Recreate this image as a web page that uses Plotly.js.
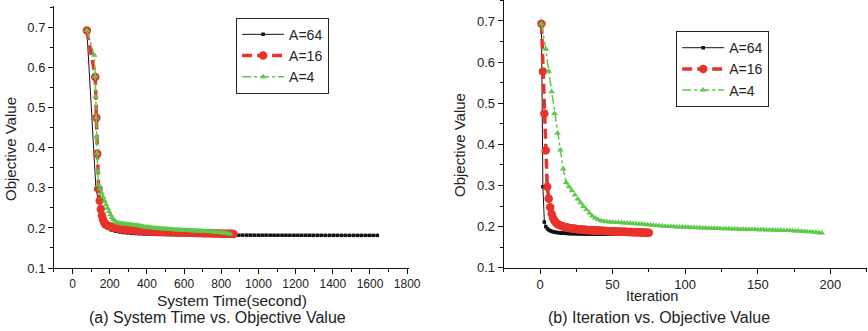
<!DOCTYPE html>
<html>
<head>
<meta charset="utf-8">
<script src="https://cdn.plot.ly/plotly-3.0.1.min.js"></script>
<style>html,body{margin:0;padding:0;background:#fff;}#chart{width:868px;height:331px;}</style>
</head>
<body>
<div id="chart"></div>
<script>
// ---- Data ----
const seriesNames = ["A=64", "A=16", "A=4"];

// A=64
const iter64 = [1,2,3,4,5,6,7,8,9,10,11,12,13,14,15,16,17,18,19,20,21,22,23,24,25,26,27,28,29,30,31,32,33,34,35,36,37,38,39,40,41,42,43,44,45,46,47,48,49,50,51,52,53,54,55,56,57,58,59,60,61,62,63,64,65,66,67,68,69,70,71,72];
const time64 = [77,126,167,188,209,231,252,273,295,316,
  337,359,380,401,423,444,465,487,508,529,
  551,572,593,615,636,657,679,700,721,743,
  764,785,807,828,849,871,892,913,935,956,
  977,999,1020,1041,1063,1084,1105,1127,1148,1169,
  1191,1212,1233,1255,1276,1297,1319,1340,1361,1383,
  1404,1425,1447,1468,1489,1511,1532,1553,1575,1596,
  1617,1639];
const obj64 = [0.693,0.297,0.211,0.200,0.195,0.192,0.190,0.1885,0.1875,0.1867,
  0.186,0.1855,0.185,0.1846,0.1843,0.184,0.1838,0.1836,0.1834,0.1832,
  0.1831,0.183,0.1829,0.1828,0.1827,0.1826,0.1825,0.1825,0.1824,0.1823,
  0.1823,0.1822,0.1822,0.1821,0.1821,0.1821,0.182,0.182,0.182,0.182,
  0.1819,0.1819,0.1819,0.1819,0.1818,0.1818,0.1818,0.1818,0.1818,0.1817,
  0.1817,0.1817,0.1817,0.1817,0.1817,0.1816,0.1816,0.1816,0.1816,0.1816,
  0.1816,0.1816,0.1815,0.1815,0.1815,0.1815,0.1815,0.1815,0.1815,0.1815,
  0.1815,0.1815];

// A=16
const iter16 = [1,2,3,4,5,6,7,8,9,10,11,12,13,14,15,16,17,18,19,20,21,22,23,24,25,26,27,28,29,30,31,32,33,34,35,36,37,38,39,40,41,42,43,44,45,46,47,48,49,50,51,52,53,54,55,56,57,58,59,60,61,62,63,64,65,66,67,68,69,70,71,72,73,74,75];
const time16 = [77,122,128,133,140,146,152,158,164,170,
  176,187,198,208,219,230,241,252,262,273,
  284,295,305,316,327,338,349,359,370,381,
  392,402,413,424,435,446,456,467,478,489,
  499,510,521,532,543,553,564,575,586,596,
  607,618,629,640,650,661,672,683,693,704,
  715,726,737,747,758,769,780,790,801,812,
  823,834,844,855,866];
const obj16 = [0.693,0.577,0.475,0.385,0.297,0.268,0.247,0.231,0.221,0.214,
  0.2095,0.2065,0.2045,0.2028,0.2014,0.2002,0.1992,0.1983,0.1975,0.1968,
  0.1962,0.1956,0.1951,0.1946,0.1942,0.1938,0.1934,0.1931,0.1928,0.1925,
  0.1922,0.1919,0.1917,0.1914,0.1912,0.191,0.1908,0.1906,0.1904,0.1902,
  0.19,0.1898,0.1896,0.1894,0.1893,0.1891,0.1889,0.1888,0.1886,0.1885,
  0.1883,0.1882,0.188,0.1879,0.1877,0.1876,0.1874,0.1873,0.1872,0.187,
  0.1869,0.1868,0.1866,0.1865,0.1864,0.1862,0.1861,0.186,0.1858,0.1857,
  0.1856,0.1854,0.1853,0.1852,0.185];

// A=4
const iter4 = [1,4,6,8,10,12,14,16,18,20,
  22,24,26,28,30,32,34,36,38,40,
  42,44,46,48,50,52,54,56,58,60,
  62,64,66,68,70,72,74,76,78,80,
  82,84,86,88,90,92,94,96,98,100,
  102,104,106,108,110,112,114,116,118,120,
  122,124,126,128,130,132,134,136,138,140,
  142,144,146,148,150,152,154,156,158,160,
  162,164,166,168,170,172,174,176,178,180,
  182,184,186,188,190,192,194];
const time4 = [77,117,122,124,126,128,131,135,140,148,
  156,164,172,180,188,196,204,212,220,229,
  237,245,253,261,269,277,285,293,301,309,
  317,325,333,341,349,357,365,373,381,390,
  398,406,414,422,430,438,446,454,462,470,
  478,486,494,502,510,518,526,534,542,551,
  559,567,575,583,591,599,607,615,623,631,
  639,647,655,663,671,679,687,695,703,712,
  720,728,736,744,752,760,768,776,784,792,
  800,808,816,824,832,840,848];
const obj4 = [0.693,0.631,0.578,0.528,0.475,0.427,0.386,0.340,0.307,0.297,
  0.287,0.277,0.267,0.258,0.249,0.241,0.233,0.226,0.221,0.217,
  0.2145,0.2128,0.2118,0.2111,0.2106,0.2101,0.2097,0.2093,0.2089,0.2085,
  0.208,0.2075,0.207,0.2065,0.206,0.2053,0.2046,0.2039,0.2032,0.2025,
  0.202,0.2015,0.201,0.2005,0.2,0.1996,0.1993,0.199,0.1987,0.1984,
  0.1981,0.1978,0.1975,0.1972,0.197,0.1967,0.1965,0.1962,0.196,0.1957,
  0.1955,0.1952,0.195,0.1948,0.1945,0.1943,0.1941,0.1939,0.1937,0.1935,
  0.1933,0.1931,0.1929,0.1927,0.1925,0.1923,0.1921,0.1919,0.1917,0.1915,
  0.1913,0.1911,0.1909,0.1907,0.1905,0.1902,0.1899,0.1895,0.1891,0.1887,
  0.1882,0.1877,0.1872,0.1866,0.186,0.1853,0.1846];

const leftTitleX = "System Time(second)";
const rightTitleX = "Iteration";
const titleY = "Objective Value";
const captionA = "(a) System Time vs. Objective Value";
const captionB = "(b) Iteration vs. Objective Value";

// ---- Styles ----
const FONT = "Arial, 'Liberation Sans', sans-serif";
const TXT = "#222";
const styles = [
  {line:{color:"#111", width:1, dash:"solid"}, marker:{symbol:"square", size:3.5, color:"#111"}},
  {line:{color:"#e8332a", width:3.5, dash:"10px,5px"}, marker:{symbol:"circle", size:8.5, color:"#e8332a"}},
  {line:{color:"#5ec94b", width:1.5, dash:"dashdot"}, marker:{symbol:"triangle-up", size:6, color:"#5ec94b"}}
];
const xsLeft = [time64, time16, time4];
const xsRight = [iter64, iter16, iter4];
const ys = [obj64, obj16, obj4];

const traces = [];
for (let i = 0; i < 3; i++) {
  traces.push({type:"scatter", mode:"lines+markers", name:seriesNames[i], x:xsLeft[i], y:ys[i],
    xaxis:"x", yaxis:"y", legend:"legend", line:styles[i].line, marker:styles[i].marker});
}
for (let i = 0; i < 3; i++) {
  traces.push({type:"scatter", mode:"lines+markers", name:seriesNames[i], x:xsRight[i], y:ys[i],
    xaxis:"x2", yaxis:"y2", legend:"legend2", line:styles[i].line, marker:styles[i].marker});
}

function axis(extra) {
  return Object.assign({
    showgrid:false, zeroline:false, showline:true, linecolor:"#111", linewidth:1,
    ticks:"outside", ticklen:5, tickwidth:1, tickcolor:"#111",
    tickfont:{family:FONT, size:13, color:TXT}, automargin:false,
  }, extra);
}

const legendStyle = {
  bgcolor:"#fff", bordercolor:"#222", borderwidth:1,
  font:{family:FONT, size:14, color:TXT}, xanchor:"left", yanchor:"top",
  tracegroupgap:0, itemwidth:42
};

const layout = {
  width:868, height:331,
  margin:{l:0, r:0, t:0, b:0},
  paper_bgcolor:"#fff", plot_bgcolor:"#fff",
  showlegend:true,
  xaxis: axis({domain:[0.0622, 0.4712], range:[-100, 1810], anchor:"y", dtick:200, tick0:0,
    tickfont:{family:FONT, size:12, color:TXT},
    minor:{dtick:100, ticks:"outside", ticklen:3, tickcolor:"#111"}}),
  yaxis: axis({domain:[0.1903, 0.9819], range:[0.1, 0.754], anchor:"x", dtick:0.1, tick0:0.1,
    minor:{dtick:0.05, ticks:"outside", ticklen:3, tickcolor:"#111"}}),
  xaxis2: axis({domain:[0.5803, 0.9985], range:[-25, 225], anchor:"y2", dtick:50, tick0:0,
    minor:{dtick:25, ticks:"outside", ticklen:3, tickcolor:"#111"}}),
  yaxis2: axis({domain:[0.1912, 1.0], range:[0.1, 0.751], anchor:"x2", dtick:0.1, tick0:0.1,
    minor:{dtick:0.05, ticks:"outside", ticklen:3, tickcolor:"#111"}}),
  legend: Object.assign({x:0.272, y:0.9465}, legendStyle),
  legend2: Object.assign({x:0.779, y:0.906}, legendStyle),
  annotations:[
    {text:titleY, xref:"paper", yref:"paper", x:0.0127, y:0.55, textangle:-90, showarrow:false,
      xanchor:"center", yanchor:"middle", font:{family:FONT, size:15, color:TXT}},
    {text:titleY, xref:"paper", yref:"paper", x:0.53, y:0.562, textangle:-90, showarrow:false,
      xanchor:"center", yanchor:"middle", font:{family:FONT, size:15, color:TXT}},
    {text:leftTitleX, xref:"paper", yref:"paper", x:0.2673, y:0.0935, showarrow:false,
      xanchor:"center", yanchor:"middle", font:{family:FONT, size:15.5, color:TXT}},
    {text:rightTitleX, xref:"paper", yref:"paper", x:0.7512, y:0.105, showarrow:false,
      xanchor:"center", yanchor:"middle", font:{family:FONT, size:14.5, color:TXT}},
    {text:captionA, xref:"paper", yref:"paper", x:0.2502, y:0.042, showarrow:false,
      xanchor:"center", yanchor:"middle", font:{family:FONT, size:16, color:TXT}},
    {text:captionB, xref:"paper", yref:"paper", x:0.7592, y:0.042, showarrow:false,
      xanchor:"center", yanchor:"middle", font:{family:FONT, size:16, color:TXT}}
  ]
};

Plotly.newPlot("chart", traces, layout, {staticPlot:true, displayModeBar:false});
</script>
</body>
</html>
